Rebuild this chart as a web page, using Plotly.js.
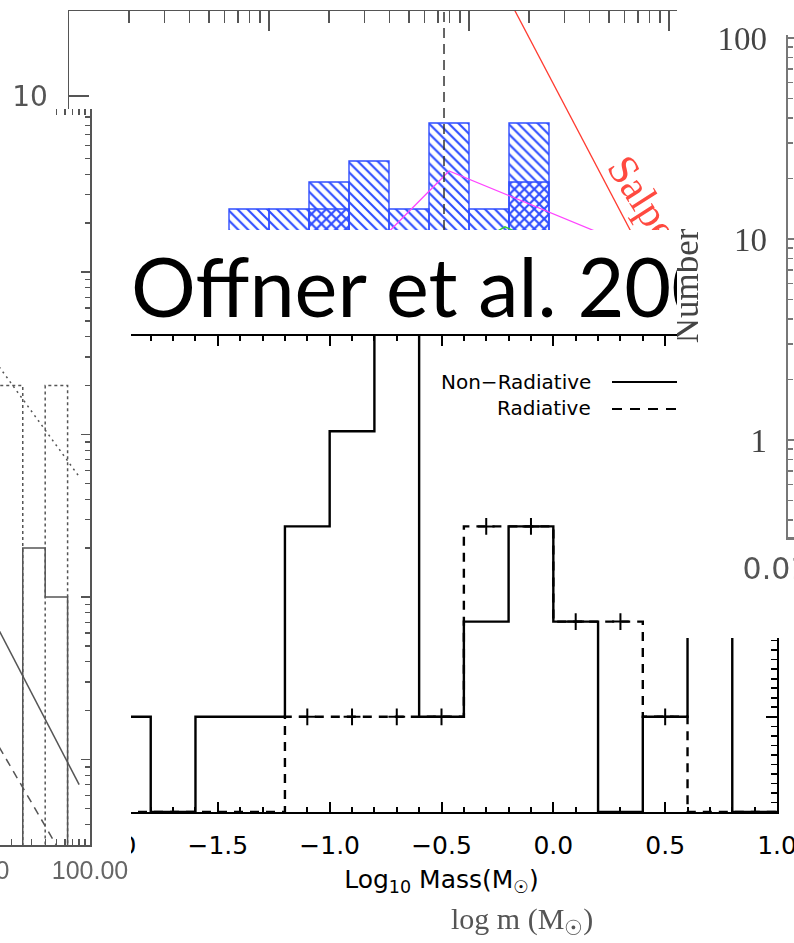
<!DOCTYPE html>
<html>
<head>
<meta charset="utf-8">
<script src="https://cdn.plot.ly/plotly-3.0.1.min.js"></script>
<style>
  html, body { margin: 0; padding: 0; background: #fff; }
  #page { position: relative; width: 794px; height: 943px; overflow: hidden; background: #fff; }
  .panel { position: absolute; overflow: hidden; background: #fff; }
  .panel > div { position: absolute; }
</style>
</head>
<body>
<div id="page"></div>
<script>
// ---------------- data ----------------

// Offner et al. (2009): number of objects per 0.2 dex bin of log10 mass
const offnerBinEdges = [-2.0, -1.8, -1.6, -1.4, -1.2, -1.0, -0.8, -0.6, -0.4, -0.2, 0.0, 0.2, 0.4, 0.6, 0.8, 1.0];
const nonRadiativeCounts = [1, 0, 1, 1, 3, 4, 6, 1, 2, 3, 2, 0, 1, 2, 0];
const radiativeCounts    = [0, 0, 0, 0, 1, 1, 1, 1, 3, 3, 2, 2, 1, 0, 0];

// observed IMF (log m bins) with the sub-sample histogram, model curves and Salpeter slope
const imfBinEdges     = [-2.2, -2.0, -1.8, -1.6, -1.4, -1.2, -1.0, -0.8, -0.6];
const imfAllCounts    = [3, 3, 4, 5, 3, 7.5, 3, 7.5];
const imfSubsetCounts = [null, null, 3, null, null, null, null, 4];
const salpeterLogM = [-1.0, 0.0];
const salpeterN    = [63, 1.09];
const modelALogM = [-1.5, -1.1, -0.1];
const modelAN    = [1.9, 4.5, 1.87];
const modelBLogM = [-1.0, -0.82, -0.6];
const modelBN    = [2.0, 2.48, 2.0];
const hydrogenBurningLimit = 0.075; // Msun

// high-mass histograms (mass in Msun) and power-law fits
const hmBinEdges     = [15.8, 25.1, 39.8, 63.1, 100];
const hmDottedCounts = [20, 0, 20, 0];
const hmSolidCounts  = [0, 2, 1, 0];
const fitMass        = [10, 80];
const fitDottedN     = [39.4, 5.5];
const fitSolidN      = [1.11, 0.07];
const fitDashedMass  = [10, 56];
const fitDashedN     = [0.2, 0.026];

// ---------------- helpers ----------------

// Each panel: a clipping box on the page, the full figure box and the plot area (page px).
function panel(id, clip, box, plot, blur) {
  const page = document.getElementById('page');
  const outer = document.createElement('div');
  outer.className = 'panel';
  Object.assign(outer.style, {
    left: clip[0] + 'px', top: clip[1] + 'px',
    width: (clip[2] - clip[0]) + 'px', height: (clip[3] - clip[1]) + 'px'
  });
  if (blur) outer.style.filter = 'blur(' + blur + 'px)';
  const inner = document.createElement('div');
  inner.id = id;
  Object.assign(inner.style, {
    left: (box[0] - clip[0]) + 'px', top: (box[1] - clip[1]) + 'px',
    width: (box[2] - box[0]) + 'px', height: (box[3] - box[1]) + 'px'
  });
  outer.appendChild(inner);
  page.appendChild(outer);
  return {
    id,
    width: box[2] - box[0],
    height: box[3] - box[1],
    margin: { l: plot[0] - box[0], r: box[2] - plot[2], t: plot[1] - box[1], b: box[3] - plot[3], pad: 0 },
    px: (x) => (x - plot[0]) / (plot[2] - plot[0]),
    py: (y) => (plot[3] - y) / (plot[3] - plot[1]),
    cx: (x) => (x - box[0]) / (box[2] - box[0]),
    cy: (y) => (box[3] - y) / (box[3] - box[1])
  };
}

function baseLayout(p) {
  return {
    width: p.width, height: p.height, margin: p.margin, autosize: false,
    paper_bgcolor: '#fff', plot_bgcolor: '#fff', showlegend: false,
    font: { family: 'DejaVu Sans', color: '#000' }
  };
}

// outline of a step histogram, dropping to `floor` for empty bins
function stepOutline(edges, counts, floor, closeLeft) {
  const x = [], y = [];
  if (closeLeft) { x.push(edges[0]); y.push(floor); }
  counts.forEach((c, i) => {
    const v = c > 0 ? c : floor;
    x.push(edges[i], edges[i + 1]);
    y.push(v, v);
  });
  x.push(edges[edges.length - 1]);
  y.push(floor);
  return { x, y };
}

const centersOf = (edges) => edges.slice(0, -1).map((e, i) => (e + edges[i + 1]) / 2);
const widthsOf = (edges) => edges.slice(0, -1).map((e, i) => edges[i + 1] - e);
const cfg = { staticPlot: true, displayModeBar: false };

// ---------------- IMF panel (hatched histograms) ----------------
(function () {
  const p = panel('imf', [0, 0, 677, 943], [0, 0, 900, 943], [69, 11, 869, 870], 0.35);
  const blue = '#2f4dff';
  const minorLogTicks = [];
  for (let n = -3; n < 1; n++) for (let k = 2; k < 10; k++) minorLogTicks.push(n + Math.log10(k));

  const data = [
    {
      type: 'bar', x: centersOf(imfBinEdges), y: imfAllCounts, width: widthsOf(imfBinEdges),
      marker: { color: blue, line: { color: blue, width: 1.4 },
        pattern: { shape: '\\', size: 7, solidity: 0.3, fgcolor: blue, fillmode: 'replace' } }
    },
    {
      type: 'bar', x: centersOf(imfBinEdges), y: imfSubsetCounts, width: widthsOf(imfBinEdges),
      marker: { color: blue, line: { color: blue, width: 1.4 },
        pattern: { shape: '/', size: 7, solidity: 0.3, fgcolor: blue, fillmode: 'replace' } }
    },
    { type: 'scatter', mode: 'lines', x: modelALogM, y: modelAN, line: { color: '#ff44ff', width: 1.3 } },
    { type: 'scatter', mode: 'lines', x: modelBLogM, y: modelBN, line: { color: '#33cc33', width: 1.3 } },
    { type: 'scatter', mode: 'lines', x: salpeterLogM, y: salpeterN, line: { color: '#ff3b30', width: 1.3 } }
  ];

  const layout = Object.assign(baseLayout(p), {
    barmode: 'overlay', bargap: 0,
    xaxis: {
      range: [-3, 1], side: 'top', tickmode: 'array', tickvals: [-3, -2, -1, 0, 1],
      ticks: 'inside', ticklen: 20, tickwidth: 1.5, tickcolor: '#555',
      minor: { tickmode: 'array', tickvals: minorLogTicks, ticks: 'inside', ticklen: 12, tickwidth: 1.5, tickcolor: '#555' },
      showline: true, linewidth: 1.5, linecolor: '#555', showticklabels: false,
      showgrid: false, zeroline: false, automargin: false
    },
    yaxis: {
      type: 'log', range: [-2.583, 1.3935], dtick: 1,
      ticks: 'inside', ticklen: 20, tickwidth: 1.5, tickcolor: '#555',
      showline: true, linewidth: 1.5, linecolor: '#555',
      tickfont: { family: 'DejaVu Sans', size: 28, color: '#555' }, ticklabelstandoff: 14,
      showgrid: false, zeroline: false, automargin: false
    },
    shapes: [{
      type: 'line', xref: 'x', yref: 'paper',
      x0: Math.log10(hydrogenBurningLimit), x1: Math.log10(hydrogenBurningLimit), y0: 0, y1: 1,
      line: { color: '#333', width: 1.5, dash: '10px,6px' }
    }],
    annotations: [
      { xref: 'paper', yref: 'paper', x: p.px(655), y: p.py(218), xanchor: 'center', yanchor: 'middle',
        text: 'Salpeter', showarrow: false,
        textangle: 57.5, font: { family: 'Liberation Serif', size: 42, color: '#ff4a40' } },
      { xref: 'paper', yref: 'paper', x: p.px(522), y: p.py(921), text: 'log m (M<sub>☉</sub>)', showarrow: false,
        xanchor: 'center', yanchor: 'middle', font: { family: 'Liberation Serif', size: 30, color: '#555' } }
    ]
  });
  Plotly.newPlot(p.id, data, layout, cfg);
})();

// ---------------- high-mass panel (log-log) ----------------
(function () {
  const p = panel('highmass', [0, 109, 131, 943], [-200, 60, 200, 943], [-134, 109, 90, 845], 0.35);
  const floor = 1e-3;
  const dotted = stepOutline(hmBinEdges, hmDottedCounts, floor, false);
  const solid = stepOutline(hmBinEdges, hmSolidCounts, floor, false);
  const grey = '#555';
  const data = [
    { type: 'scatter', mode: 'lines', x: dotted.x, y: dotted.y, line: { color: grey, width: 1.5, dash: 'dot' } },
    { type: 'scatter', mode: 'lines', x: solid.x, y: solid.y, line: { color: grey, width: 1.5 } },
    { type: 'scatter', mode: 'lines', x: fitMass, y: fitDottedN, line: { color: grey, width: 1.5, dash: '2px,4px' } },
    { type: 'scatter', mode: 'lines', x: fitMass, y: fitSolidN, line: { color: grey, width: 1.5 } },
    { type: 'scatter', mode: 'lines', x: fitDashedMass, y: fitDashedN, line: { color: grey, width: 1.5, dash: '8px,6px' } }
  ];
  const layout = Object.assign(baseLayout(p), {
    xaxis: {
      type: 'log', range: [0, 2], dtick: 1, tickformat: '.2f',
      ticks: 'inside', ticklen: 7, tickwidth: 1.3, tickcolor: grey,
      minor: { dtick: 'D1', ticks: 'inside', ticklen: 6, tickwidth: 1.3, tickcolor: grey },
      showline: true, linewidth: 1.5, linecolor: grey, mirror: 'ticks',
      tickfont: { family: 'Liberation Sans', size: 25, color: '#666' }, ticklabelstandoff: 2,
      showgrid: false, zeroline: false, automargin: false
    },
    yaxis: {
      type: 'log', range: [-1.526, 3.003], dtick: 1, side: 'right',
      ticks: 'inside', ticklen: 9, tickwidth: 1.3, tickcolor: grey,
      minor: { dtick: 'D1', ticks: 'inside', ticklen: 5, tickwidth: 1.3, tickcolor: grey },
      showline: true, linewidth: 1.5, linecolor: grey, showticklabels: false,
      showgrid: false, zeroline: false, automargin: false
    },
    shapes: [{
      type: 'rect', xref: 'paper', yref: 'paper', layer: 'above',
      x0: p.px(-200), x1: p.px(47), y0: p.py(122), y1: p.py(100),
      fillcolor: '#fff', line: { width: 0 }
    }]
  });
  Plotly.newPlot(p.id, data, layout, cfg);
})();

// ---------------- Offner et al. 2009 histogram ----------------
(function () {
  const p = panel('offner', [131, 230, 794, 903], [0, 0, 900, 943], [106, 336, 777, 812], 0);
  const nonRad = stepOutline(offnerBinEdges, nonRadiativeCounts, 0, true);
  const rad = stepOutline(offnerBinEdges, radiativeCounts, 0, true);
  const centers = centersOf(offnerBinEdges);
  const markX = [], markY = [];
  radiativeCounts.forEach((c, i) => { if (c > 0) { markX.push(centers[i]); markY.push(c); } });

  const data = [
    { type: 'scatter', mode: 'lines', name: 'Non−Radiative', x: nonRad.x, y: nonRad.y,
      line: { color: '#000', width: 2.4 } },
    { type: 'scatter', mode: 'lines', name: 'Radiative', x: rad.x, y: rad.y,
      line: { color: '#000', width: 2.4, dash: '9px,7px' } },
    { type: 'scatter', mode: 'markers', x: markX, y: markY, cliponaxis: false,
      marker: { symbol: 'cross-thin', size: 12, color: '#000', line: { color: '#000', width: 2 } } }
  ];
  const axisFont = { family: 'DejaVu Sans', size: 25, color: '#000' };
  const layout = Object.assign(baseLayout(p), {
    title: {
      text: 'Offner et al. 2009', xref: 'container', yref: 'container',
      x: p.cx(131), xanchor: 'left', y: p.cy(289), yanchor: 'middle',
      font: { family: 'Lato', size: 81, color: '#000' }
    },
    xaxis: {
      range: [-2, 1], tickmode: 'linear', tick0: 0, dtick: 0.5, tickformat: '.1f',
      ticks: 'inside', ticklen: 10, tickwidth: 2, tickcolor: '#000',
      minor: { tickmode: 'linear', tick0: 0, dtick: 0.1, ticks: 'inside', ticklen: 5, tickwidth: 2, tickcolor: '#000' },
      showline: true, linewidth: 2, linecolor: '#000', mirror: 'ticks',
      tickfont: axisFont, ticklabelstandoff: 10,
      title: { text: 'Log<sub>10</sub> Mass(M<sub>☉</sub>)', font: axisFont, standoff: 11 },
      showgrid: false, zeroline: false, automargin: false
    },
    yaxis: {
      range: [0, 5], tickmode: 'linear', tick0: 0, dtick: 1,
      ticks: 'inside', ticklen: 11, tickwidth: 2, tickcolor: '#000',
      minor: { tickmode: 'linear', tick0: 0, dtick: 0.1, ticks: 'inside', ticklen: 6, tickwidth: 1.6, tickcolor: '#000' },
      showline: true, linewidth: 2, linecolor: '#000', mirror: 'ticks', showticklabels: false,
      showgrid: false, zeroline: false, automargin: false
    },
    annotations: [
      { xref: 'paper', yref: 'paper', x: p.px(593), y: p.py(382), xanchor: 'right', yanchor: 'middle',
        text: 'Non−Radiative', showarrow: false, font: { family: 'DejaVu Sans', size: 20, color: '#000' } },
      { xref: 'paper', yref: 'paper', x: p.px(593), y: p.py(408), xanchor: 'right', yanchor: 'middle',
        text: 'Radiative', showarrow: false, font: { family: 'DejaVu Sans', size: 20, color: '#000' } }
    ],
    shapes: [
      { type: 'line', xref: 'paper', yref: 'paper', x0: p.px(612), x1: p.px(700), y0: p.py(382), y1: p.py(382),
        line: { color: '#000', width: 2 } },
      { type: 'line', xref: 'paper', yref: 'paper', x0: p.px(612), x1: p.px(700), y0: p.py(409), y1: p.py(409),
        line: { color: '#000', width: 2, dash: '10px,8px' } }
    ]
  });
  Plotly.newPlot(p.id, data, layout, cfg);
})();

// ---------------- counts panel (log number axis) ----------------
(function () {
  const p = panel('counts', [677, 28, 794, 638], [560, 0, 1300, 760], [788, 35, 1250, 537], 0.45);
  const grey = '#777';
  const layout = Object.assign(baseLayout(p), {
    xaxis: {
      type: 'log', range: [-2, 1], tickmode: 'array', tickvals: [0.01], ticktext: ['0.01'], ticks: '',
      showline: true, linewidth: 2.5, linecolor: grey,
      tickfont: { family: 'DejaVu Sans', size: 30, color: '#555' }, ticklabelstandoff: 3, ticklabelshift: -12,
      showgrid: false, zeroline: false, automargin: false
    },
    yaxis: {
      type: 'log', range: [-0.4826, 2.015], dtick: 1,
      ticks: 'inside', ticklen: 8, tickwidth: 1.5, tickcolor: grey,
      minor: { dtick: 'D1', ticks: 'inside', ticklen: 5, tickwidth: 1.5, tickcolor: grey },
      showline: true, linewidth: 2.5, linecolor: grey,
      tickfont: { family: 'Liberation Serif', size: 33, color: '#444' }, ticklabelstandoff: 12,
      title: { text: 'Number', font: { family: 'Liberation Serif', size: 35, color: '#444' }, standoff: 8 },
      showgrid: false, zeroline: false, automargin: false
    }
  });
  Plotly.newPlot(p.id, [], layout, cfg);
})();
</script>
</body>
</html>
